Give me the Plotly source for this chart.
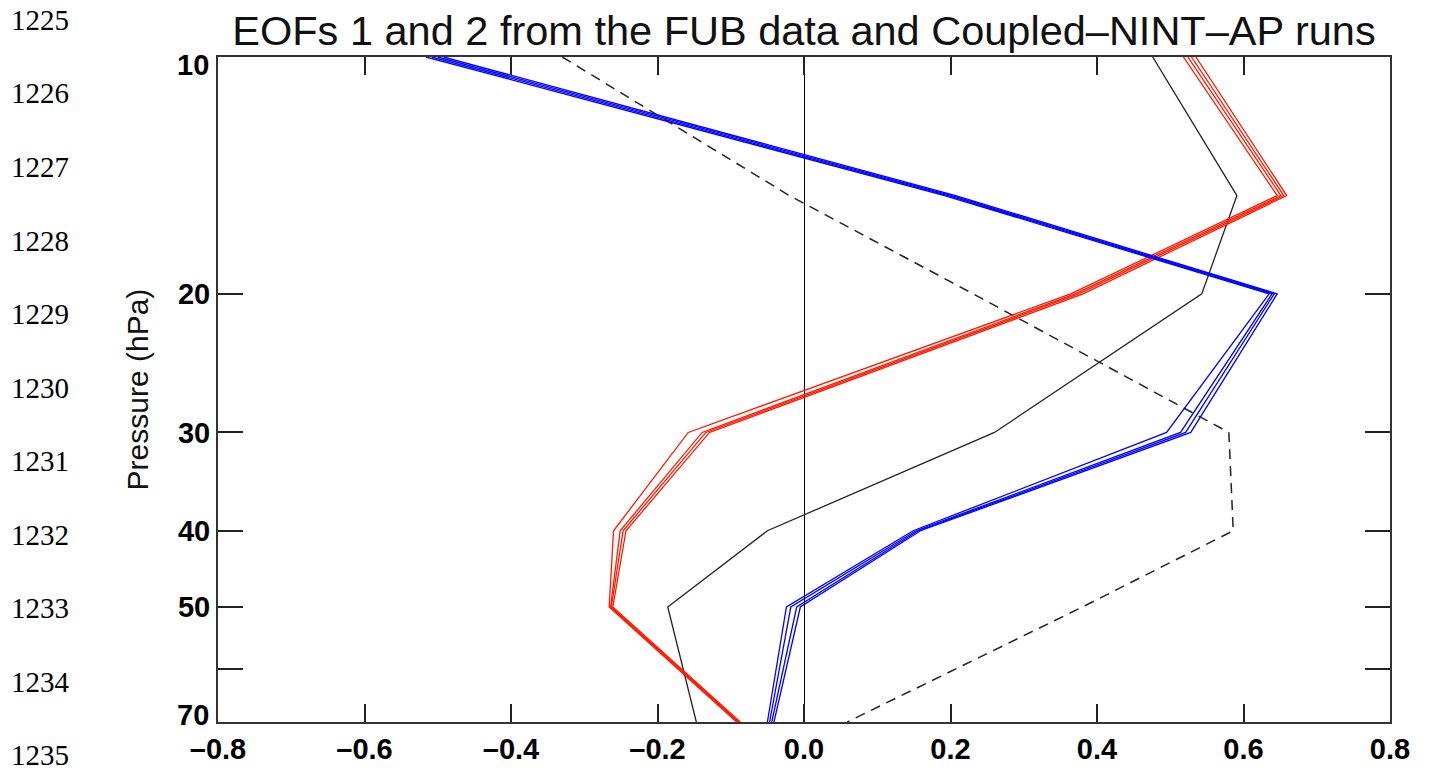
import numpy as np
import plotly.graph_objects as go

# ---------------- data ----------------
pressure = [10, 15, 20, 30, 40, 50, 70]

# FUB observations (black)
fub_eof_solid = [0.476, 0.591, 0.543, 0.260, -0.050, -0.186, -0.147]
fub_eof_dashed = [-0.330, -0.020, 0.231, 0.580, 0.586, 0.380, 0.059]

# Coupled-NINT-AP runs (red ensemble)
red_run1 = [0.518, 0.646, 0.364, -0.158, -0.260, -0.266, -0.092]
red_run2 = [0.524, 0.651, 0.370, -0.139, -0.251, -0.264, -0.090]
red_run3 = [0.529, 0.655, 0.375, -0.134, -0.247, -0.263, -0.089]
red_run4 = [0.535, 0.659, 0.381, -0.129, -0.243, -0.261, -0.087]

# Coupled-NINT-AP runs (blue ensemble)
blue_run1 = [-0.516, 0.192, 0.635, 0.495, 0.149, -0.024, -0.050]
blue_run2 = [-0.508, 0.197, 0.639, 0.514, 0.153, -0.018, -0.047]
blue_run3 = [-0.500, 0.202, 0.642, 0.521, 0.156, -0.010, -0.044]
blue_run4 = [-0.492, 0.207, 0.646, 0.528, 0.159, -0.005, -0.041]

x_tickvals = [-0.8, -0.6, -0.4, -0.2, 0.0, 0.2, 0.4, 0.6, 0.8]
x_ticktext = ["\u20130.8", "\u20130.6", "\u20130.4", "\u20130.2", "0.0", "0.2", "0.4", "0.6", "0.8"]
y_tickvals = [10, 20, 30, 40, 50, 60, 70]
y_ticktext = ["10", "20", "30", "40", "50", "", "70"]

line_numbers = ["1225", "1226", "1227", "1228", "1229", "1230",
                "1231", "1232", "1233", "1234", "1235"]

title_text = "EOFs 1 and 2 from the FUB data and Coupled\u2013NINT\u2013AP runs"

# ---------------- figure ----------------
W, H = 1429, 773
L, R, T, B = 218, 39, 57, 51

fig = go.Figure()

fig.add_trace(go.Scatter(x=fub_eof_solid, y=pressure, mode="lines",
                         line=dict(color="#222222", width=1.3), showlegend=False))
fig.add_trace(go.Scatter(x=fub_eof_dashed, y=pressure, mode="lines",
                         line=dict(color="#222222", width=1.5, dash="10px,7px"),
                         showlegend=False))
for run in [red_run1, red_run2, red_run3, red_run4]:
    fig.add_trace(go.Scatter(x=run, y=pressure, mode="lines",
                             line=dict(color="#ff1a00", width=1.3), showlegend=False))
for run in [blue_run1, blue_run2, blue_run3, blue_run4]:
    fig.add_trace(go.Scatter(x=run, y=pressure, mode="lines",
                             line=dict(color="#0000ff", width=1.3), showlegend=False))

# line numbers in left margin
plot_w = W - L - R
plot_h = H - T - B
annotations = []
for i, txt in enumerate(line_numbers):
    py = 20 + 73.5 * i
    annotations.append(dict(
        text=txt, xref="paper", yref="paper",
        x=(40 - L) / plot_w, y=(H - B - py) / plot_h,
        xanchor="center", yanchor="middle", showarrow=False,
        font=dict(family="Liberation Serif", size=29, color="black")))

# end labels of the pressure axis sit slightly inside the frame (as in the original)
tick_font = dict(family="Liberation Sans", size=29, color="black", weight="bold")
shown_ticktext = list(y_ticktext)
for idx, shift in [(0, -8), (len(y_tickvals) - 1, 7)]:
    annotations.append(dict(
        text=y_ticktext[idx], xref="paper", yref="y",
        x=0, y=np.log10(y_tickvals[idx]), xanchor="right", yanchor="middle",
        xshift=-7, yshift=shift, showarrow=False, font=tick_font))
    shown_ticktext[idx] = ""

fig.update_layout(
    width=W, height=H,
    margin=dict(l=L, r=R, t=T, b=B, autoexpand=False),
    paper_bgcolor="white", plot_bgcolor="white",
    title=dict(text=title_text, x=0.5, xref="paper", xanchor="center",
               y=1 - 30 / H, yref="container", yanchor="middle",
               font=dict(family="Liberation Sans", size=41.5, color="#111111")),
    annotations=annotations,
    xaxis=dict(range=[-0.8, 0.8], tickvals=x_tickvals, ticktext=x_ticktext,
               automargin=False,
               ticks="inside", ticklen=18, tickwidth=1.5, tickcolor="#222222",
               showline=True, linecolor="#333333", linewidth=2, mirror="allticks",
               showgrid=False, zeroline=True, zerolinecolor="black", zerolinewidth=1.4,
               tickfont=tick_font),
    yaxis=dict(type="log", range=[np.log10(70), np.log10(10)],
               tickvals=y_tickvals, ticktext=shown_ticktext,
               automargin=False,
               ticks="inside", ticklen=25, tickwidth=1.5, tickcolor="#222222",
               showline=True, linecolor="#333333", linewidth=2, mirror="allticks",
               showgrid=False, zeroline=False,
               title=dict(text="Pressure (hPa)", standoff=20,
                          font=dict(family="Liberation Sans", size=30, color="#111111")),
               tickfont=tick_font),
)

fig.write_html("out.html", config={"displayModeBar": False},
               post_script="document.body.style.margin='0';document.body.style.padding='0';")
